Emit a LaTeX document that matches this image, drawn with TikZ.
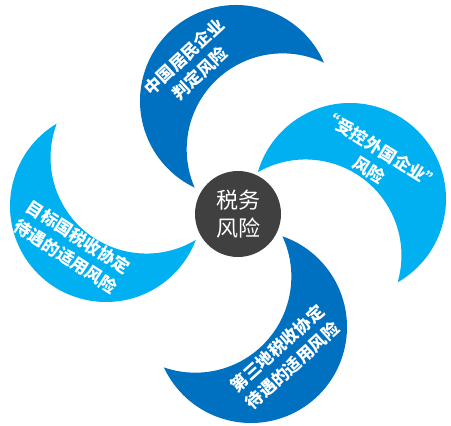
\documentclass[tikz,border=0pt]{standalone}
\usepackage{fontspec}
\newfontfamily\cjk{Noto Sans CJK SC}
\definecolor{darkblue}{HTML}{0070C0}
\definecolor{lightblue}{HTML}{00B0F0}
\definecolor{darkgrey}{HTML}{404040}

\begin{document}
\begin{tikzpicture}[
  x=1pt,y=1pt,
  lbl/.style={text=white, align=center, font=\cjk\bfseries\fontsize{17}{23}\selectfont},
  hub/.style={circle, fill=darkgrey, minimum size=86pt, inner sep=0pt, align=center, text=white, font=\cjk\fontsize{22}{28}\selectfont}
]
\useasboundingbox (0,0) rectangle (451,426);

% crescents: outer arc from tip to tip, back along the inner arc
\foreach \ox/\oy/\phi/\al/\col in {236/325/-46/69.5/darkblue, 350/227/231.75/68/lightblue, 251/99/137.9/67/darkblue, 106/220/50.1/70.8/lightblue}{
  \fill[\col] (\ox,\oy) ++(\phi+\al:96) arc[start angle=\phi+\al, end angle=\phi-\al+360, radius=96]
    arc[start angle=\phi+180+\al, end angle=\phi+180-\al, radius=96] -- cycle;
}

\node[hub] (risk) at (238,212) {税务\\风险};

\node[lbl, rotate=43] (resident) at (192,361) {中国居民企业\\判定风险};
\node[lbl, rotate=-32] (cfc) at (375,266) {“受控外国企业”\\风险};
\node[lbl, rotate=42] (third) at (285,69) {第三地税收协定\\待遇的适用风险};
\node[lbl, rotate=-33] (target) at (72,179) {目标国税收协定\\待遇的适用风险};
\end{tikzpicture}
\end{document}
